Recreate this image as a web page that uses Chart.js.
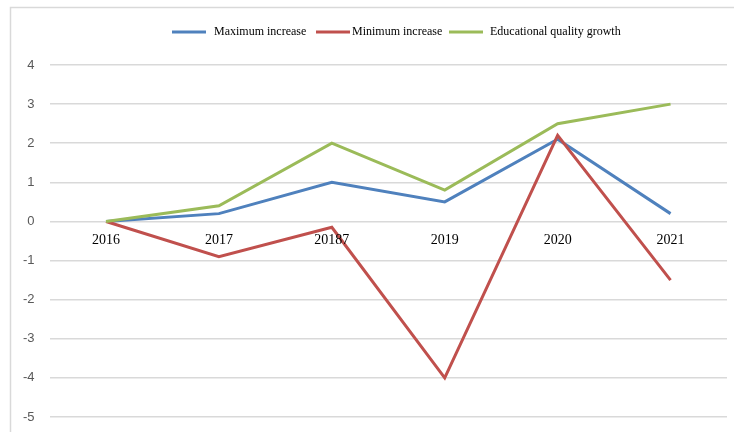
<!DOCTYPE html>
<html>
<head>
<meta charset="utf-8">
<script src="https://cdn.jsdelivr.net/npm/chart.js@4.4.1/dist/chart.umd.min.js"></script>
<style>
  html, body { margin: 0; padding: 0; background: #fff; overflow: hidden; }
  canvas { display: block; }
</style>
</head>
<body>
<canvas id="c" width="734" height="432"></canvas>
<script>
// Data
const years = ["2016", "2017", "20187", "2019", "2020", "2021"];
const maxIncrease = [0, 0.2, 1, 0.5, 2.1, 0.2];
const minIncrease = [0, -0.9, -0.15, -4, 2.2, -1.5];
const eduGrowth = [0, 0.4, 2, 0.8, 2.5, 3];
const seriesNames = ["Maximum increase", "Minimum increase", "Educational quality growth"];
const yTicks = [4, 3, 2, 1, 0, -1, -2, -3, -4, -5];

const COLORS = ["#4F81BD", "#C0504D", "#9BBB59"];
const SERIF = '"Liberation Serif", "Times New Roman", serif';

// outer frame (light grey box, open to the right/bottom edge like the crop)
const framePlugin = {
  id: "frame",
  beforeDraw(chart) {
    const ctx = chart.ctx;
    ctx.save();
    ctx.strokeStyle = "#d9d9d9";
    ctx.lineWidth = 1.5;
    ctx.beginPath();
    ctx.moveTo(740, 7.5);
    ctx.lineTo(10.5, 7.5);
    ctx.lineTo(10.5, 440);
    ctx.stroke();
    ctx.restore();
  },
};

// legend laid out like the Excel one: line swatch + serif label
const legendPlugin = {
  id: "customLegend",
  afterDraw(chart) {
    const ctx = chart.ctx;
    const slots = [
      { x0: 172, x1: 206, tx: 214 },
      { x0: 316, x1: 350, tx: 352 },
      { x0: 449, x1: 483, tx: 490 },
    ];
    ctx.save();
    ctx.font = "12px " + SERIF;
    ctx.textBaseline = "middle";
    ctx.fillStyle = "#000";
    slots.forEach((s, i) => {
      ctx.strokeStyle = COLORS[i];
      ctx.lineWidth = 3;
      ctx.beginPath();
      ctx.moveTo(s.x0, 32);
      ctx.lineTo(s.x1, 32);
      ctx.stroke();
      ctx.fillText(seriesNames[i], s.tx, 32);
    });
    ctx.restore();
  },
};

// category labels sit just under the zero line
const yearLabelPlugin = {
  id: "yearLabels",
  afterDatasetsDraw(chart) {
    const ctx = chart.ctx;
    const xs = chart.scales.x, ys = chart.scales.y;
    const y0 = ys.getPixelForValue(0);
    ctx.save();
    ctx.font = "14px " + SERIF;
    ctx.fillStyle = "#000";
    ctx.textAlign = "center";
    ctx.textBaseline = "middle";
    years.forEach((lab, i) => {
      ctx.fillText(lab, xs.getPixelForValue(i), y0 + 19);
    });
    ctx.restore();
  },
};

const mk = (label, data, color, order) => ({
  label, data, order,
  borderColor: color,
  backgroundColor: color,
  borderWidth: 3,
  pointRadius: 0,
  tension: 0,
  fill: false,
});

new Chart(document.getElementById("c"), {
  type: "line",
  data: {
    labels: years,
    datasets: [
      mk(seriesNames[0], maxIncrease, COLORS[0], 2),
      mk(seriesNames[1], minIncrease, COLORS[1], 1),
      mk(seriesNames[2], eduGrowth, COLORS[2], 0),
    ],
  },
  options: {
    responsive: false,
    animation: false,
    layout: { padding: { top: 65, right: 7, bottom: 15, left: 8 } },
    plugins: { legend: { display: false }, tooltip: { enabled: false } },
    scales: {
      x: {
        display: false,
        offset: true,
      },
      y: {
        min: Math.min(...yTicks),
        max: Math.max(...yTicks),
        afterBuildTicks(axis) { axis.ticks = yTicks.map(v => ({ value: v })); },
        // let layout.padding alone decide the plot's top and bottom
        afterFit(axis) { axis.paddingTop = 0; axis.paddingBottom = 0; },
        grid: { color: "#d9d9d9", lineWidth: 1.5, drawTicks: false },
        border: { display: false },
        ticks: {
          color: "#595959",
          padding: 15,
          font: { family: '"Liberation Sans", Arial, sans-serif', size: 13 },
        },
      },
    },
  },
  plugins: [framePlugin, legendPlugin, yearLabelPlugin],
});
</script>
</body>
</html>
